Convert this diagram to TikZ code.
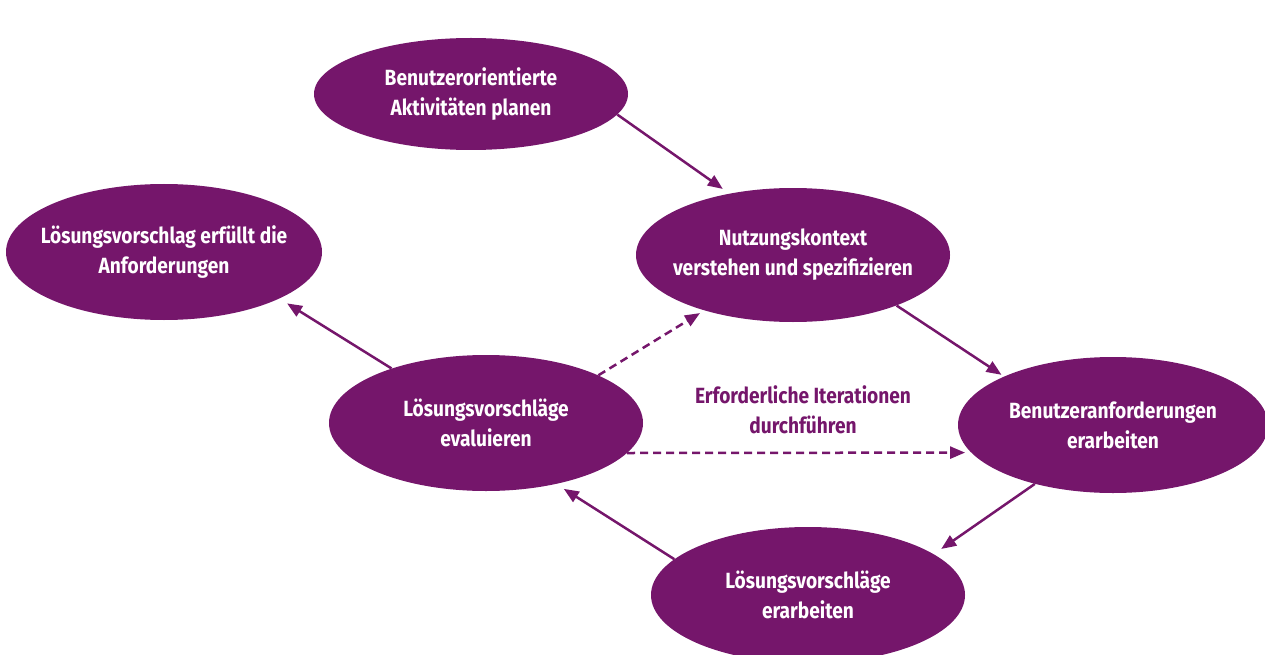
\documentclass[tikz,border=0pt]{standalone}
\usepackage{fontspec}
\setmainfont{Fira Sans}[FakeStretch=0.87]
\usetikzlibrary{shapes.geometric,arrows.meta}
\definecolor{vio}{HTML}{75166B}
\tikzset{
  ell/.style={ellipse, fill=vio, draw=none, inner sep=0pt, minimum width=314pt, minimum height=136pt},
  lbl/.style={text=white, font=\bfseries\fontsize{22}{30}\selectfont, align=center, inner sep=0pt},
  conn/.style={draw=vio, line width=2.5pt, -{Triangle[length=15pt,width=12pt]}},
  dconn/.style={conn, dash pattern=on 8pt off 5pt},
}
\begin{document}
\begin{tikzpicture}[x=1pt,y=-1pt]
\useasboundingbox (0,0) rectangle (1265,655);
\node[ell, minimum height=112pt] (n1) at (471,94) {};
\node[ell, minimum width=316pt] (n2) at (164,252) {};
\node[ell, minimum height=134pt] (n3) at (793,255) {};
\node[ell] (n4) at (486,423) {};
\node[ell, minimum width=310pt] (n5) at (1113,425) {};
\node[ell] (n6) at (808,595) {};

\draw[conn, shorten >=8pt] (n1.-8) -- (n3.136);
\draw[conn, shorten >=3pt] (n3.-26) -- (n5.156.6);
\draw[conn, shorten >=9pt] (n5.-143.25) -- (n6.18.8);
\draw[conn, shorten >=9pt] (n6.165.6) -- (n4.-41.4);
\draw[conn, shorten >=9pt] (n4.150.9) -- (n2.-22);
\draw[dconn, shorten >=5pt] (n4.23) -- (n3.-148);
\draw[dconn, shorten >=6pt] (n4.-12.4) -- (n5.191.4);

\node[lbl] (t1) at (n1) {Benutzerorientierte\\Aktivitäten planen};
\node[lbl] (t2) at (n2) {Lösungsvorschlag erfüllt die\\Anforderungen};
\node[lbl] (t3) at (n3) {Nutzungskontext\\verstehen und spezifizieren};
\node[lbl] (t4) at (n4) {Lösungsvorschläge\\evaluieren};
\node[lbl] (t5) at (n5) {Benutzeranforderungen\\erarbeiten};
\node[lbl] (t6) at (n6) {Lösungsvorschläge\\erarbeiten};
\node[lbl, text=vio] (it) at (803,410) {Erforderliche Iterationen\\durchführen};
\end{tikzpicture}
\end{document}
